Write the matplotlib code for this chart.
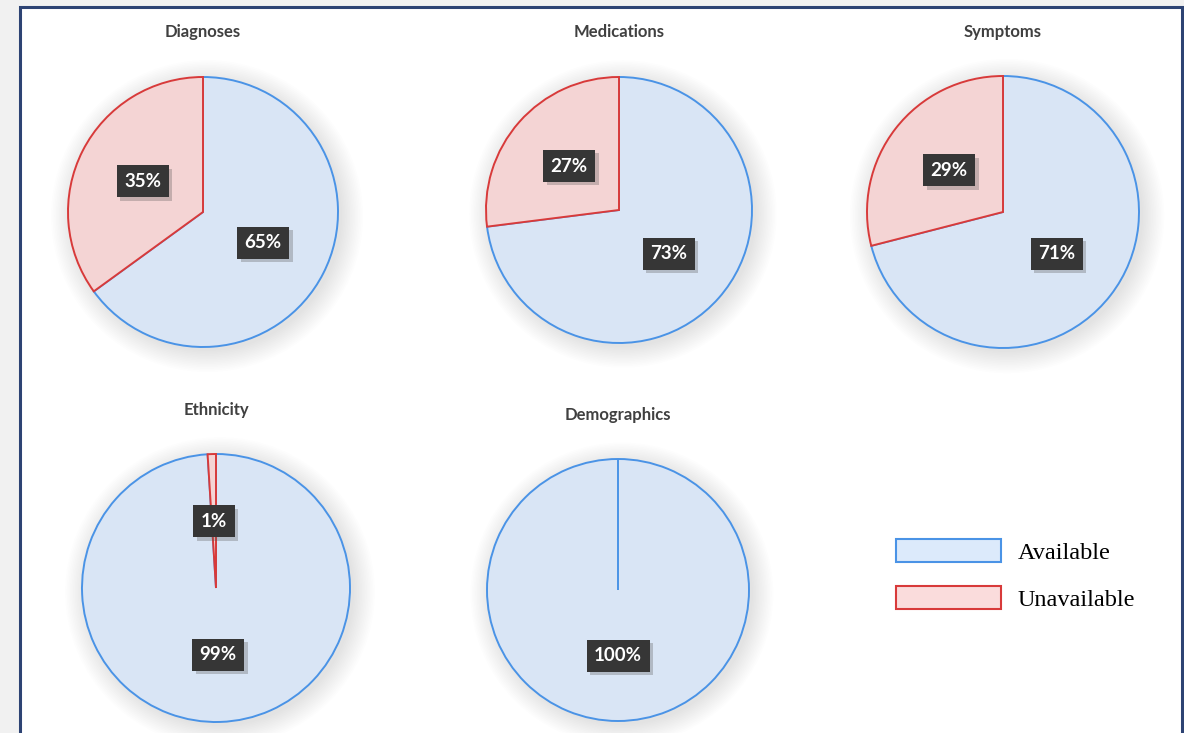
import matplotlib.pyplot as plt
import matplotlib.patheffects as pe
from matplotlib.patches import Patch, Rectangle, Circle

plt.rcParams['font.family'] = ['Lato', 'DejaVu Sans']

# data
categories = ['Diagnoses', 'Medications', 'Symptoms', 'Ethnicity', 'Demographics']
unavailable = [35, 27, 29, 1, 0]
available = [65, 73, 71, 99, 100]
legend_labels = ['Available', 'Unavailable']

# layout in pixels: centre x, centre y, radius, title y
W, H = 1184, 733
pie_boxes = [(203, 212, 135, 32), (619, 210, 133, 32), (1003, 212, 136, 32),
             (216, 588, 134, 410), (618, 590, 131, 415)]

avail_face, avail_edge = '#d9e5f5', '#4a93e6'
unav_face, unav_edge = '#f4d4d4', '#d83a3a'

fig = plt.figure(figsize=(W / 100, H / 100), dpi=100)
fig.patch.set_facecolor('#f1f1f1')

# white panel with dark blue border (behind everything)
panel = Rectangle((20 / W, -0.05), (1182 - 20) / W, 1 - 7 / H + 0.05,
                  transform=fig.transFigure, facecolor='white',
                  edgecolor='#2d4373', linewidth=2.2, zorder=-5)
fig.patches.append(panel)


def pct_label(p):
    if p < 0.5:
        return ''
    return '%d%%' % round(p)


for name, un, av, (cx, cy, r, ty) in zip(categories, unavailable, available, pie_boxes):
    ax = fig.add_axes([(cx - r) / W, (H - cy - r) / H, 2 * r / W, 2 * r / H])
    # soft glow behind the pie
    for i in range(14):
        ax.add_patch(Circle((0.03, -0.03), 1.0 + 0.012 * i, facecolor='black',
                            edgecolor='none', alpha=0.006, clip_on=False, zorder=0))
    wedges, texts, autotexts = ax.pie(
        [un, av], colors=[unav_face, avail_face], startangle=90, counterclock=True,
        autopct=pct_label, pctdistance=0.5, radius=1.0,
        wedgeprops=dict(linewidth=1.4),
        textprops=dict(color='white', fontsize=13.5, fontweight='bold'))
    wedges[0].set_edgecolor(unav_edge)
    wedges[1].set_edgecolor(avail_edge)
    wedges[0].set_zorder(3)
    wedges[1].set_zorder(2)
    if un == 0:
        wedges[0].set_edgecolor(avail_edge)
    for t in autotexts:
        t.set_zorder(5)
        t.set_bbox(dict(boxstyle='square,pad=0.4', facecolor='#363636', edgecolor='none'))
        t.get_bbox_patch().set_path_effects(
            [pe.SimplePatchShadow(offset=(2.5, -2.5), shadow_rgbFace='#555555', alpha=0.3),
             pe.Normal()])
    ax.set_xlim(-1, 1)
    ax.set_ylim(-1, 1)
    ax.axis('off')
    fig.text(cx / W, 1 - ty / H, name, ha='center', va='center',
             fontsize=12, fontweight='bold', color='#404040')

handles = [Patch(facecolor='#dceafb', edgecolor=avail_edge, linewidth=1.5),
           Patch(facecolor='#fadcdc', edgecolor=unav_edge, linewidth=1.5)]
fig.legend(handles, legend_labels, loc='upper left',
           bbox_to_anchor=(896 / W, 1 - 539 / H), frameon=False,
           prop=dict(family='Liberation Serif', size=17.5),
           handlelength=4.3, handleheight=1.1, handletextpad=0.72,
           labelspacing=0.9, borderpad=0, borderaxespad=0)

fig.savefig('out.png', dpi=100, facecolor=fig.get_facecolor())
